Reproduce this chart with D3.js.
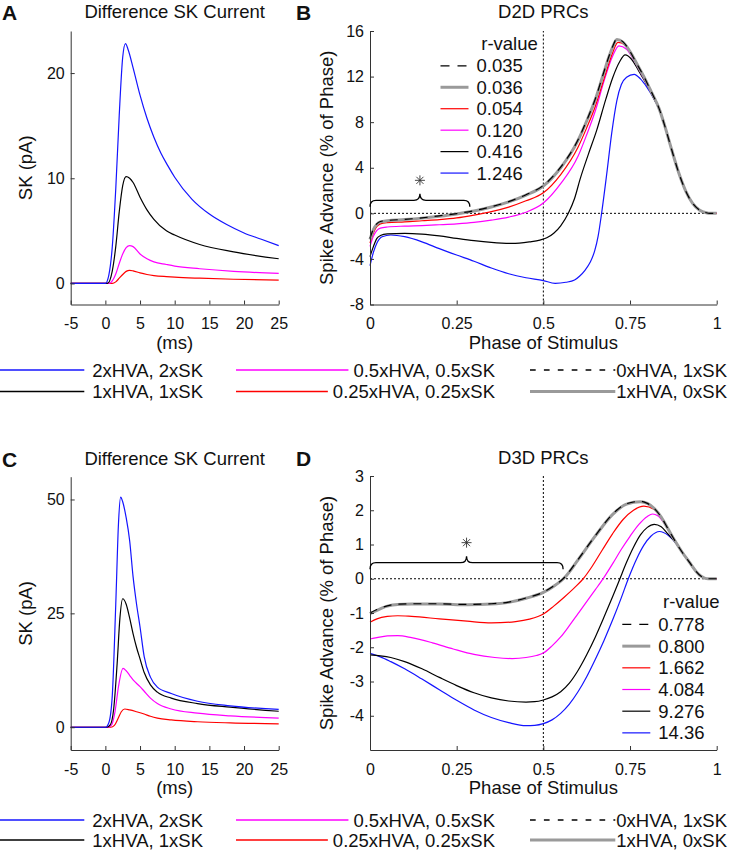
<!DOCTYPE html>
<html>
<head>
<meta charset="utf-8">
<script src="https://cdn.jsdelivr.net/npm/d3@7"></script>
<style>
  body { margin: 0; background: #fff; }
  text { font-family: "Liberation Sans", Arial, Helvetica, sans-serif; fill: #111; }
</style>
</head>
<body>
<svg id="fig" width="730" height="853"></svg>
<script>
// ---- data ----

// A / C: difference SK current, [time (ms), current (pA)]
var aBlue = [[-5,0],[0,0],[0.5,0.8],[1,3.5],[1.5,9],[2,16],[2.5,21.5],[2.9,22.8],[3.3,22.2],[4,20.5],[5,17.9],[6,15.7],[7,13.9],[8,12.4],[9,11.2],[10,10.1],[12.5,8.0],[15,6.6],[17.5,5.6],[20,4.8],[22.5,4.2],[25,3.6]];
var aBlack = [[-5,0],[0.3,0],[1,1.2],[1.5,3.5],[2,6.8],[2.5,9.3],[3,10.15],[3.5,10],[4,9.6],[5,8.2],[6,7.0],[7,6.1],[8.8,5.0],[10,4.6],[13.6,3.7],[18.5,3.0],[25,2.35]];
var aMagenta = [[-5,0],[0.6,0],[1,0.25],[1.5,0.9],[2,1.9],[2.5,2.8],[3,3.4],[3.5,3.6],[4,3.5],[5,2.8],[6,2.35],[7,2.05],[8.8,1.8],[10,1.65],[13.6,1.4],[18.5,1.15],[25,0.95]];
var aRed = [[-5,0],[1,0],[1.5,0.15],[2,0.5],[2.5,0.85],[3,1.15],[3.5,1.25],[4,1.2],[5,1.0],[6,0.85],[7,0.75],[8.8,0.65],[10,0.6],[13.6,0.5],[18.5,0.4],[25,0.32]];

var cBlue = [[-5,0],[0,0],[0.5,1],[1,7],[1.5,27],[1.9,45],[2.2,50.5],[2.5,49.5],[3,46],[3.5,41],[4,33],[4.5,27],[5,22],[5.6,15.5],[6.5,11],[7.5,8.8],[9.5,7.4],[13.3,5.7],[18,4.7],[25,3.9]];
var cBlack = [[-5,0],[0.2,0],[0.7,0.5],[1.2,4],[1.7,14],[2.1,24],[2.5,28.2],[3,27],[3.5,24],[4,20.5],[4.5,17.5],[5,15],[5.6,12],[6.5,9.3],[7.5,7.7],[9.5,6.4],[13.3,5.2],[18,4.4],[25,3.5]];
var cMagenta = [[-5,0],[0.4,0],[0.9,0.5],[1.4,3.5],[1.9,9],[2.55,12.9],[3,12.4],[3.5,11.4],[4,10.4],[5,8.9],[5.6,7.9],[6.5,6.4],[7.5,5.2],[9.5,4.0],[13.3,3.1],[18,2.5],[25,2.0]];
var cRed = [[-5,0],[0.8,0],[1.3,0.4],[1.8,1.8],[2.3,3.4],[2.8,4.0],[3.5,3.8],[4.5,3.4],[5.6,2.9],[6.5,2.4],[7.5,2.0],[9.5,1.6],[13.3,1.2],[18,0.95],[25,0.75]];

// B: D2D PRCs, [phase, spike advance (%)]
var bTail = [[0.85,7.7],[0.87,5.6],[0.89,3.6],[0.91,2.0],[0.93,0.9],[0.95,0.3],[0.97,0.05],[0.98,0],[1,0]];
var bGray = [[0,-2.3],[0.01,-1.4],[0.02,-0.95],[0.03,-0.75],[0.05,-0.65],[0.1,-0.55],[0.15,-0.42],[0.2,-0.25],[0.25,-0.05],[0.3,0.2],[0.35,0.55],[0.4,1.0],[0.45,1.6],[0.5,2.4],[0.55,4.0],[0.6,6.4],[0.625,8.1],[0.65,10.0],[0.675,12.4],[0.69,13.8],[0.7,14.6],[0.712,15.25],[0.73,15.0],[0.75,14.2],[0.77,13.1],[0.79,12.0],[0.81,10.75],[0.835,9.1]];
var bDash = [[0,-2.2],[0.01,-1.35],[0.02,-0.9],[0.03,-0.72],[0.05,-0.63],[0.1,-0.53],[0.15,-0.4],[0.2,-0.22],[0.25,-0.02],[0.3,0.23],[0.35,0.58],[0.4,1.03],[0.45,1.63],[0.5,2.45],[0.55,4.05],[0.6,6.45],[0.625,8.15],[0.65,10.05],[0.675,12.45],[0.69,13.85],[0.7,14.65],[0.712,15.3],[0.73,15.05],[0.75,14.2],[0.77,13.1],[0.79,12.0],[0.81,10.75],[0.835,9.1]];
var bRed = [[0,-2.6],[0.01,-1.7],[0.02,-1.15],[0.03,-0.92],[0.05,-0.82],[0.1,-0.75],[0.15,-0.65],[0.2,-0.55],[0.25,-0.4],[0.3,-0.15],[0.35,0.15],[0.4,0.55],[0.45,1.1],[0.5,1.8],[0.55,3.4],[0.6,5.8],[0.625,7.5],[0.65,9.4],[0.675,11.8],[0.7,14.1],[0.715,15.0],[0.735,14.8],[0.755,13.9],[0.775,12.85],[0.795,11.7],[0.815,10.45],[0.835,9.1]];
var bMagenta = [[0,-2.9],[0.01,-2.0],[0.02,-1.5],[0.03,-1.3],[0.05,-1.2],[0.1,-1.12],[0.15,-1.07],[0.2,-1.0],[0.25,-0.92],[0.3,-0.8],[0.35,-0.6],[0.4,-0.33],[0.45,0.1],[0.5,0.9],[0.55,2.6],[0.6,5.0],[0.625,6.9],[0.65,9.0],[0.675,11.6],[0.7,13.8],[0.718,14.7],[0.74,14.4],[0.76,13.5],[0.78,12.4],[0.8,11.25],[0.82,10.05],[0.835,9.1]];
var bBlack = [[0,-3.8],[0.01,-2.9],[0.02,-2.2],[0.03,-1.95],[0.05,-1.8],[0.1,-1.75],[0.15,-1.82],[0.2,-1.98],[0.25,-2.2],[0.3,-2.4],[0.35,-2.55],[0.41,-2.64],[0.46,-2.5],[0.49,-2.35],[0.51,-2.15],[0.53,-1.75],[0.55,-1.1],[0.572,0],[0.59,1.3],[0.606,3.0],[0.63,5.2],[0.654,7.3],[0.68,10.0],[0.7,11.9],[0.72,13.3],[0.736,13.9],[0.755,13.5],[0.775,12.5],[0.8,11.2],[0.82,10.0],[0.835,9.1]];
var bBlue = [[0,-4.6],[0.01,-3.4],[0.02,-2.6],[0.035,-2.05],[0.06,-1.9],[0.1,-2.05],[0.15,-2.5],[0.2,-3.1],[0.25,-3.66],[0.3,-4.2],[0.35,-4.8],[0.4,-5.3],[0.45,-5.65],[0.5,-5.9],[0.534,-6.14],[0.565,-6.05],[0.59,-5.85],[0.605,-5.5],[0.62,-5.0],[0.635,-4.3],[0.648,-3.3],[0.658,-2.0],[0.668,0],[0.683,3.5],[0.697,7.0],[0.712,9.9],[0.725,11.3],[0.74,11.95],[0.762,12.2],[0.78,11.8],[0.798,11.1],[0.82,10.0],[0.835,9.1]];

// D: D3D PRCs, [phase, spike advance (%)]
var dTail = [[0.9,0.78],[0.92,0.5],[0.94,0.22],[0.955,0.07],[0.965,0.02],[0.975,0],[1,0]];
var dGray = [[0,-1.02],[0.02,-0.92],[0.05,-0.8],[0.08,-0.75],[0.12,-0.74],[0.2,-0.74],[0.28,-0.76],[0.35,-0.74],[0.4,-0.69],[0.45,-0.57],[0.5,-0.4],[0.53,-0.22],[0.56,0.02],[0.6,0.55],[0.65,1.25],[0.7,1.88],[0.74,2.18],[0.78,2.25],[0.8,2.2],[0.82,2.05],[0.84,1.8],[0.86,1.45],[0.88,1.1]];
var dDash = [[0,-1.0],[0.02,-0.9],[0.05,-0.79],[0.08,-0.74],[0.12,-0.73],[0.2,-0.73],[0.28,-0.75],[0.35,-0.73],[0.4,-0.68],[0.45,-0.56],[0.5,-0.39],[0.53,-0.21],[0.56,0.03],[0.6,0.56],[0.65,1.26],[0.7,1.89],[0.74,2.19],[0.78,2.26],[0.8,2.2],[0.82,2.05],[0.84,1.8],[0.86,1.45],[0.88,1.1]];
var dRed = [[0,-1.27],[0.02,-1.17],[0.05,-1.1],[0.08,-1.08],[0.12,-1.1],[0.2,-1.17],[0.28,-1.24],[0.35,-1.29],[0.42,-1.25],[0.46,-1.18],[0.5,-1.03],[0.53,-0.8],[0.56,-0.54],[0.59,-0.26],[0.615,0],[0.64,0.35],[0.67,0.84],[0.7,1.32],[0.73,1.73],[0.76,2.0],[0.79,2.12],[0.82,2.02],[0.84,1.78],[0.86,1.45],[0.88,1.1]];
var dMagenta = [[0,-1.76],[0.02,-1.72],[0.05,-1.67],[0.08,-1.66],[0.12,-1.72],[0.18,-1.87],[0.24,-2.05],[0.3,-2.21],[0.36,-2.3],[0.41,-2.33],[0.45,-2.3],[0.48,-2.24],[0.5,-2.17],[0.525,-1.96],[0.55,-1.7],[0.575,-1.37],[0.6,-1.02],[0.625,-0.67],[0.65,-0.32],[0.675,0.04],[0.7,0.44],[0.725,0.86],[0.75,1.24],[0.775,1.58],[0.8,1.82],[0.815,1.89],[0.83,1.84],[0.85,1.6],[0.87,1.25],[0.89,0.94]];
var dBlack = [[0,-2.22],[0.03,-2.25],[0.06,-2.3],[0.1,-2.42],[0.15,-2.63],[0.2,-2.88],[0.25,-3.12],[0.3,-3.33],[0.35,-3.48],[0.4,-3.57],[0.45,-3.6],[0.475,-3.59],[0.5,-3.54],[0.525,-3.45],[0.55,-3.3],[0.575,-3.05],[0.6,-2.68],[0.625,-2.22],[0.65,-1.7],[0.675,-1.12],[0.7,-0.52],[0.72,-0.02],[0.74,0.48],[0.76,0.92],[0.78,1.28],[0.8,1.5],[0.82,1.59],[0.84,1.52],[0.86,1.3],[0.89,0.94]];
var dBlue = [[0,-2.18],[0.03,-2.28],[0.06,-2.42],[0.1,-2.63],[0.15,-2.93],[0.2,-3.24],[0.25,-3.55],[0.3,-3.83],[0.35,-4.05],[0.4,-4.2],[0.45,-4.29],[0.475,-4.28],[0.5,-4.23],[0.525,-4.12],[0.55,-3.93],[0.575,-3.66],[0.6,-3.3],[0.625,-2.86],[0.65,-2.35],[0.675,-1.8],[0.7,-1.2],[0.725,-0.55],[0.745,0],[0.77,0.6],[0.79,0.98],[0.81,1.24],[0.835,1.38],[0.86,1.27],[0.89,0.94]];

// ticks and labels
var msTicks = [-5, 0, 5, 10, 15, 20, 25];
var msLabels = ["-5", "0", "5", "10", "15", "20", "25"];
var phaseTicks = [0, 0.25, 0.5, 0.75, 1];
var phaseLabels = ["0", "0.25", "0.5", "0.75", "1"];
var aYTicks = [0, 10, 20];
var cYTicks = [0, 25, 50];
var bYTicks = [-8, -4, 0, 4, 8, 12, 16];
var dYTicks = [-4, -3, -2, -1, 0, 1, 2, 3];

var bRValues = ["0.035", "0.036", "0.054", "0.120", "0.416", "1.246"];
var dRValues = ["0.778", "0.800", "1.662", "4.084", "9.276", "14.36"];
var condLabels = ["2xHVA, 2xSK", "1xHVA, 1xSK", "0.5xHVA, 0.5xSK", "0.25xHVA, 0.25xSK", "0xHVA, 1xSK", "1xHVA, 0xSK"];

// significance brace spans (phase from, phase to, level)
var bBrace = [0, 0.288, 1.14];
var dBrace = [0, 0.557, 0.47];

// ---- styles ----
var st = {
  blue:    { stroke: "#1414ff", width: 1.2 },
  black:   { stroke: "#000",    width: 1.2 },
  magenta: { stroke: "#ff00ff", width: 1.2 },
  red:     { stroke: "#ff0000", width: 1.2 },
  gray:    { stroke: "#9a9a9a", width: 3 },
  dash:    { stroke: "#000",    width: 1.2, dash: "8,7" }
};

var svg = d3.select("#fig");
var TICK = 16, LAB = 18.5;

function styleLine(sel, s) {
  sel.attr("fill", "none")
    .attr("stroke", s.stroke)
    .attr("stroke-width", s.width)
    .attr("stroke-dasharray", s.dash || null);
  return sel;
}

function drawPanel(p) {
  var x = d3.scaleLinear().domain(p.xDomain).range([p.left, p.right]);
  var y = d3.scaleLinear().domain(p.yDomain).range([p.bottom, p.top]);
  var g = svg.append("g");

  if (p.ref) {
    g.append("line")
      .attr("x1", x(0)).attr("x2", x(1)).attr("y1", y(0)).attr("y2", y(0))
      .attr("stroke", "#000").attr("stroke-width", 1).attr("stroke-dasharray", "2,2");
    g.append("line")
      .attr("x1", x(0.5)).attr("x2", x(0.5)).attr("y1", y(p.yDomain[0])).attr("y2", y(p.yDomain[1]))
      .attr("stroke", "#000").attr("stroke-width", 1).attr("stroke-dasharray", "2,2");
  }

  var line = d3.line()
    .x(function (d) { return x(d[0]); })
    .y(function (d) { return y(d[1]); })
    .curve(d3.curveMonotoneX);

  p.series.forEach(function (s) {
    styleLine(g.append("path").datum(s.data).attr("d", line), s.style);
  });

  var xa = g.append("g")
    .attr("transform", "translate(0," + p.bottom + ")")
    .call(d3.axisBottom(x).tickValues(p.xTicks)
      .tickFormat(function (d, i) { return p.xLabels[i]; })
      .tickSizeInner(-4).tickSizeOuter(0).tickPadding(13.5));
  var ya = g.append("g")
    .attr("transform", "translate(" + p.left + ",0)")
    .call(d3.axisLeft(y).tickValues(p.yTicks)
      .tickFormat(function (d) { return String(d); })
      .tickSizeInner(-4).tickSizeOuter(0).tickPadding(6));
  [xa, ya].forEach(function (a) {
    a.attr("color", "#333").attr("font-size", TICK).attr("font-family", null);
    a.selectAll("text").style("fill", "#111");
  });

  var cx = (p.left + p.right) / 2;
  g.append("text").attr("x", cx).attr("y", p.titleY)
    .attr("text-anchor", "middle").attr("font-size", LAB).text(p.title);
  g.append("text").attr("x", cx).attr("y", p.bottom + 44)
    .attr("text-anchor", "middle").attr("font-size", LAB).text(p.xTitle);
  g.append("text")
    .attr("transform", "translate(" + (p.left - p.yTitleOff) + "," + ((p.top + p.bottom) / 2) + ") rotate(-90)")
    .attr("text-anchor", "middle").attr("font-size", LAB).text(p.yTitle);
  g.append("text").attr("x", p.letterX).attr("y", p.titleY + 1.5)
    .attr("font-size", 21).attr("font-weight", "bold").text(p.letter);

  return { x: x, y: y, g: g };
}

function drawBrace(pn, b) {
  var x0 = pn.x(b[0]), x1 = pn.x(b[1]), yF = pn.y(b[2]);
  var xm = (x0 + x1) / 2, h = 6.5, r = 6;
  var path = d3.path();
  path.moveTo(x0, yF + h);
  path.quadraticCurveTo(x0, yF, x0 + r, yF);
  path.lineTo(xm - r, yF);
  path.quadraticCurveTo(xm, yF, xm, yF - h);
  path.quadraticCurveTo(xm, yF, xm + r, yF);
  path.lineTo(x1 - r, yF);
  path.quadraticCurveTo(x1, yF, x1, yF + h);
  pn.g.append("path").attr("d", path.toString())
    .attr("fill", "none").attr("stroke", "#000").attr("stroke-width", 1.3);
  // asterisk
  var ay = yF - 20, rad = 5;
  [0, 45, 90, 135].forEach(function (a) {
    var t = a * Math.PI / 180;
    pn.g.append("line")
      .attr("x1", xm - rad * Math.cos(t)).attr("y1", ay - rad * Math.sin(t))
      .attr("x2", xm + rad * Math.cos(t)).attr("y2", ay + rad * Math.sin(t))
      .attr("stroke", "#333").attr("stroke-width", 0.9);
  });
}

function drawRLegend(pn, labels, styles, lx, ty, step) {
  pn.g.append("text").attr("x", lx + 33).attr("y", ty + 6.6)
    .attr("text-anchor", "middle").attr("font-size", LAB).text("r-value");
  labels.forEach(function (lab, i) {
    var cy = ty + step * (i + 1.05);
    styleLine(pn.g.append("line").attr("x1", lx - 36).attr("x2", lx - 8)
      .attr("y1", cy).attr("y2", cy), styles[i]).attr("stroke-dasharray", styles[i].dash ? "9,8" : null);
    pn.g.append("text").attr("x", lx).attr("y", cy + 6.6)
      .attr("font-size", LAB).text(lab);
  });
}

function drawFigLegend(rowY) {
  var cols = [
    { start: 0,   end: 203, gap: 8, items: [0, 1], styles: [st.blue, st.black] },
    { start: 236, end: 495, gap: 5, items: [2, 3], styles: [st.magenta, st.red] },
    { start: 530, end: 727, gap: 1, items: [4, 5], styles: [st.dash, st.gray] }
  ];
  cols.forEach(function (c) {
    c.items.forEach(function (k, i) {
      var t = svg.append("text").attr("x", c.end).attr("y", rowY[i] + 6.6)
        .attr("text-anchor", "end").attr("font-size", LAB).text(condLabels[k]);
      var len = t.node().getComputedTextLength();
      var s = c.styles[i];
      styleLine(svg.append("line").attr("x1", c.start).attr("x2", c.end - len - c.gap)
        .attr("y1", rowY[i]).attr("y2", rowY[i]), s)
        .attr("stroke-width", s.width === 3 ? 3 : 1.5)
        .attr("stroke-dasharray", s.dash ? "5.7,8.2" : null);
    });
  });
}

// ---- panels ----
var prcOrder = [st.dash, st.gray, st.red, st.magenta, st.black, st.blue];

drawPanel({
  letter: "A", letterX: 2, title: "Difference SK Current", titleY: 18,
  left: 70.7, right: 278.7, top: 31, bottom: 304.5,
  xDomain: [-5, 25], yDomain: [-2, 24],
  xTicks: msTicks, xLabels: msLabels, yTicks: aYTicks,
  xTitle: "(ms)", yTitle: "SK (pA)", yTitleOff: 39,
  series: [
    { data: aRed, style: st.red }, { data: aMagenta, style: st.magenta },
    { data: aBlack, style: st.black }, { data: aBlue, style: st.blue }
  ]
});

var pB = drawPanel({
  letter: "B", letterX: 296, title: "D2D PRCs", titleY: 18,
  left: 370, right: 716.7, top: 31, bottom: 304.5,
  xDomain: [0, 1], yDomain: [-8, 16], ref: true,
  xTicks: phaseTicks, xLabels: phaseLabels, yTicks: bYTicks,
  xTitle: "Phase of Stimulus", yTitle: "Spike Advance (% of Phase)", yTitleOff: 37,
  series: [
    { data: bBlue.concat(bTail), style: st.blue },
    { data: bBlack.concat(bTail), style: st.black },
    { data: bMagenta.concat(bTail), style: st.magenta },
    { data: bRed.concat(bTail), style: st.red },
    { data: bGray.concat(bTail), style: st.gray },
    { data: bDash.concat(bTail), style: st.dash }
  ]
});
drawBrace(pB, bBrace);
drawRLegend(pB, bRValues, prcOrder, 476.5, 43.3, 21.45);

drawPanel({
  letter: "C", letterX: 2, title: "Difference SK Current", titleY: 465,
  left: 70.7, right: 278.7, top: 476.7, bottom: 750,
  xDomain: [-5, 25], yDomain: [-5, 55],
  xTicks: msTicks, xLabels: msLabels, yTicks: cYTicks,
  xTitle: "(ms)", yTitle: "SK (pA)", yTitleOff: 39,
  series: [
    { data: cRed, style: st.red }, { data: cMagenta, style: st.magenta },
    { data: cBlack, style: st.black }, { data: cBlue, style: st.blue }
  ]
});

var pD = drawPanel({
  letter: "D", letterX: 296, title: "D3D PRCs", titleY: 464,
  left: 370, right: 716.7, top: 476, bottom: 750,
  xDomain: [0, 1], yDomain: [-5, 3], ref: true,
  xTicks: phaseTicks, xLabels: phaseLabels, yTicks: dYTicks,
  xTitle: "Phase of Stimulus", yTitle: "Spike Advance (% of Phase)", yTitleOff: 37,
  series: [
    { data: dBlue.concat(dTail), style: st.blue },
    { data: dBlack.concat(dTail), style: st.black },
    { data: dMagenta.concat(dTail), style: st.magenta },
    { data: dRed.concat(dTail), style: st.red },
    { data: dGray.concat(dTail), style: st.gray },
    { data: dDash.concat(dTail), style: st.dash }
  ]
});
drawBrace(pD, dBrace);
drawRLegend(pD, dRValues, prcOrder, 658.3, 601.7, 21.68);

drawFigLegend([370, 391.5]);
drawFigLegend([820, 840]);
</script>
</body>
</html>
